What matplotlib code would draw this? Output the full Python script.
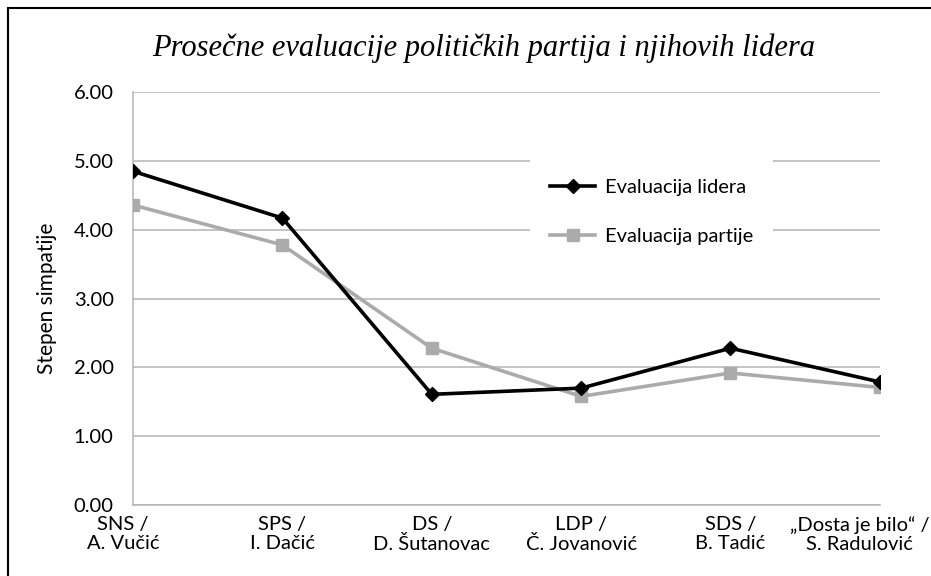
import matplotlib.pyplot as plt
from matplotlib.patches import Rectangle
from matplotlib.transforms import ScaledTranslation

# categories (party / leader)
categories = ["SNS /\nA. Vučić", "SPS /\nI. Dačić", "DS /\nD. Šutanovac",
              "LDP /\nČ. Jovanović", "SDS /\nB. Tadić", "„Dosta je bilo“ /\nS. Radulović"]

# values
lideri = [4.85, 4.17, 1.61, 1.70, 2.28, 1.79]
partije = [4.36, 3.78, 2.28, 1.58, 1.92, 1.71]

yticks = [0, 1, 2, 3, 4, 5, 6]

plt.rcParams['font.family'] = ['Lato', 'DejaVu Sans']

fig = plt.figure(figsize=(9.31, 5.76), dpi=100)
ax = fig.add_axes([0.143, 0.123, 0.802, 0.717])

x = list(range(len(categories)))
ax.plot(x, partije, color="#ababab", lw=2.6, marker="s", markersize=9,
        label="Evaluacija partije", zorder=3)
ax.plot(x, lideri, color="black", lw=2.6, marker="D", markersize=7,
        label="Evaluacija lidera", zorder=4)

ax.set_xlim(0, 5)
ax.set_ylim(0, 6)
ax.set_yticks(yticks)
ax.set_yticklabels(["%.2f" % v for v in yticks], fontsize=14.5)
ax.set_xticks(x)
ax.set_xticklabels(categories, fontsize=14.5, linespacing=1.1)
ax.tick_params(length=0, pad=8)
ax.tick_params(axis="y", pad=14)
ax.yaxis.grid(True, color="#b4b4b4", lw=1.1)
ax.set_axisbelow(True)
for s in ["top", "right"]:
    ax.spines[s].set_visible(False)
for s in ["left", "bottom"]:
    ax.spines[s].set_color("#b4b4b4")
    ax.spines[s].set_linewidth(1.1)

# nudge first and last category labels inward, like the original
xl = ax.get_xticklabels()
xl[0].set_transform(xl[0].get_transform() + ScaledTranslation(-0.10, 0, fig.dpi_scale_trans))
xl[-1].set_transform(xl[-1].get_transform() + ScaledTranslation(-0.20, 0, fig.dpi_scale_trans))

ax.set_ylabel("Stepen simpatije", fontsize=15, labelpad=12)

handles, labels = ax.get_legend_handles_labels()
leg = ax.legend(handles[::-1], labels[::-1], loc="center",
                bbox_to_anchor=(0.70, 0.632), bbox_transform=fig.transFigure,
                fontsize=14.5, labelspacing=1.6, handlelength=2.2, handletextpad=0.5,
                borderpad=1.0, frameon=True, fancybox=False, framealpha=1)
leg.get_frame().set_edgecolor("none")
leg.get_frame().set_facecolor("white")

fig.text(0.52, 0.917, "Prosečne evaluacije političkih partija i njihovih lidera",
         ha="center", va="center", fontsize=22, style="italic",
         family=["Liberation Serif", "DejaVu Serif"])

fig.patches.append(Rectangle((8 / 931, -0.01), 1.0, 1 - 8 / 576 + 0.01,
                             transform=fig.transFigure, fill=False,
                             edgecolor="black", lw=1.5))

fig.savefig("out.png", dpi=100)
